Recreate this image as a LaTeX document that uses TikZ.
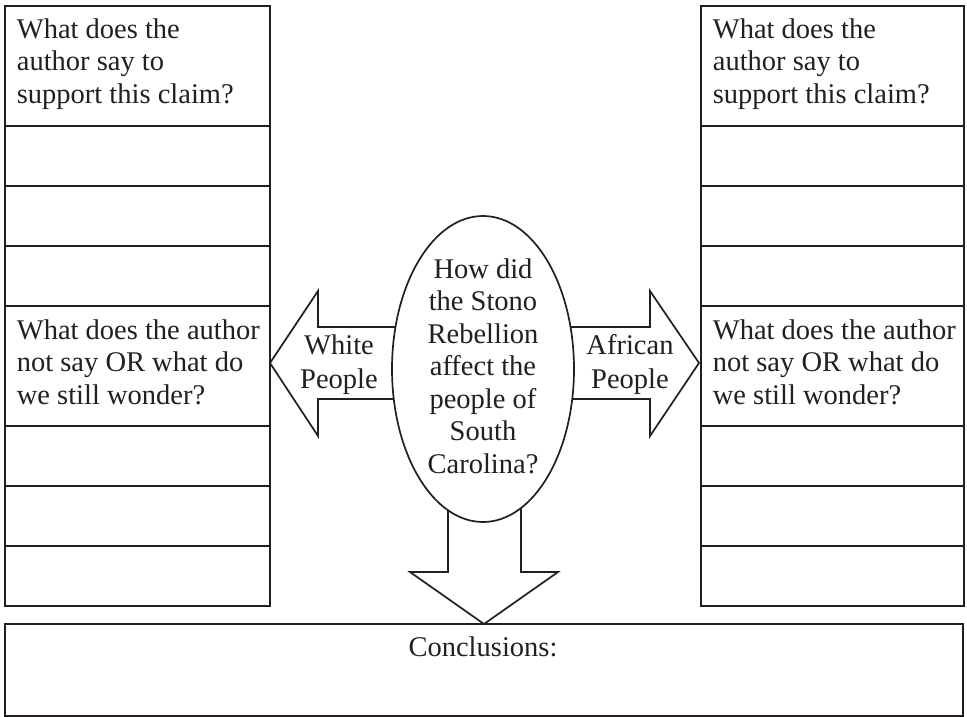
\documentclass[tikz,border=0pt]{standalone}
\usepackage{fontspec}
\setmainfont{Liberation Serif}
\usetikzlibrary{shapes.geometric}
\definecolor{ink}{RGB}{35,31,32}
\begin{document}
\begin{tikzpicture}[x=1pt,y=-1pt,line width=1.7pt,
  cell/.style={draw=ink,rectangle,inner sep=0pt,outer sep=0pt,anchor=north west,minimum width=#1},
  txt/.style={font=\fontsize{28.5}{32.5}\selectfont,inner sep=0pt,text=ink},
  blockarrow/.style={draw=ink,fill=white,line join=miter}]
\useasboundingbox (0,0) rectangle (967,717);

% block arrows (drawn first, shafts hidden under the ellipse)
\draw[blockarrow] (420,327) -- (318,327) -- (318,291) -- (270,363) -- (318,436) -- (318,399) -- (420,399);
\draw[blockarrow] (546,327) -- (650,327) -- (650,291) -- (699,363) -- (650,436) -- (650,399) -- (546,399);
\draw[blockarrow] (448,470) -- (448,572) -- (410,572) -- (484,624) -- (558,572) -- (521,572) -- (521,470);

% left column
\node[cell=265pt,minimum height=120pt] (L1) at (5,6) {};
\node[cell=265pt,minimum height=60pt] (L2) at (5,126) {};
\node[cell=265pt,minimum height=60pt] (L3) at (5,186) {};
\node[cell=265pt,minimum height=60pt] (L4) at (5,246) {};
\node[cell=265pt,minimum height=120pt] (L5) at (5,306) {};
\node[cell=265pt,minimum height=60pt] (L6) at (5,426) {};
\node[cell=265pt,minimum height=60pt] (L7) at (5,486) {};
\node[cell=265pt,minimum height=60pt] (L8) at (5,546) {};

% right column
\node[cell=263pt,minimum height=120pt] (R1) at (701,6) {};
\node[cell=263pt,minimum height=60pt] (R2) at (701,126) {};
\node[cell=263pt,minimum height=60pt] (R3) at (701,186) {};
\node[cell=263pt,minimum height=60pt] (R4) at (701,246) {};
\node[cell=263pt,minimum height=120pt] (R5) at (701,306) {};
\node[cell=263pt,minimum height=60pt] (R6) at (701,426) {};
\node[cell=263pt,minimum height=60pt] (R7) at (701,486) {};
\node[cell=263pt,minimum height=60pt] (R8) at (701,546) {};

% conclusions
\node[cell=958pt,minimum height=92pt] (C) at (5,624) {};

% ellipse
\node[draw=ink,fill=white,ellipse,inner sep=0pt,minimum width=182pt,minimum height=306pt] (E) at (483,369) {};

% texts
\node[txt,align=left,anchor=north west] (tL1) at (16,17.5) {What does the\\author say to\\support this claim?};
\node[txt,align=left,anchor=north west] (tL5) at (16,318.5) {What does the author\\not say OR what do\\we still wonder?};
\node[txt,align=left,anchor=north west] (tR1) at (712,17.5) {What does the\\author say to\\support this claim?};
\node[txt,align=left,anchor=north west] (tR5) at (712,318.5) {What does the author\\not say OR what do\\we still wonder?};
\node[txt,align=center,anchor=north] (tE) at (483,257.5) {How did\\the Stono\\Rebellion\\affect the\\people of\\South\\Carolina?};
\node[txt,align=center,anchor=north,font=\fontsize{28.5}{34}\selectfont] (tW) at (339,333.5) {White\\People};
\node[txt,align=center,anchor=north,font=\fontsize{28.5}{34}\selectfont] (tA) at (630,333.5) {African\\People};
\node[txt,anchor=north] (tC) at (483,635.5) {Conclusions:};
\end{tikzpicture}
\end{document}
